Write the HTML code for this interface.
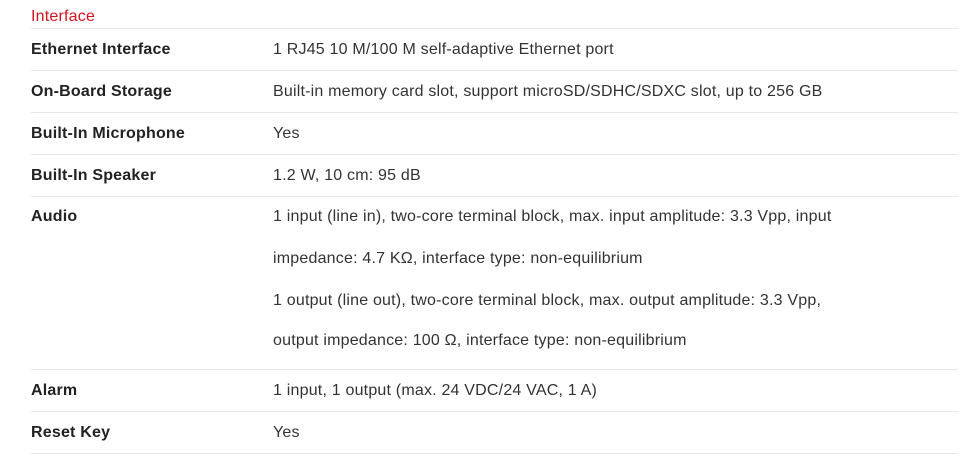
<!DOCTYPE html>
<html><head><style>
body{margin:0;width:967px;height:462px;background:#fff;position:relative;font-family:"Liberation Sans",sans-serif;font-size:16px;letter-spacing:0.2px;color:#222;overflow:hidden}
.t{position:absolute;white-space:nowrap;line-height:20px}
.b{font-weight:bold;left:31px;color:#222}
.v{left:273px;color:#333}
.l{position:absolute;left:31px;width:927px;height:1px;background:#e8e8e8}
</style></head><body>
<div class="t" style="left:31px;top:7px;color:#d7141e;font-size:16px">Interface</div>
<div class="l" style="top:28px"></div>
<div class="t b" style="top:40px">Ethernet Interface</div>
<div class="t v" style="top:40px">1 RJ45 10 M/100 M self-adaptive Ethernet port</div>
<div class="l" style="top:70px"></div>
<div class="t b" style="top:82px">On-Board Storage</div>
<div class="t v" style="top:82px">Built-in memory card slot, support microSD/SDHC/SDXC slot, up to 256 GB</div>
<div class="l" style="top:112px"></div>
<div class="t b" style="top:124px">Built-In Microphone</div>
<div class="t v" style="top:124px">Yes</div>
<div class="l" style="top:154px"></div>
<div class="t b" style="top:166px">Built-In Speaker</div>
<div class="t v" style="top:166px">1.2 W, 10 cm: 95 dB</div>
<div class="l" style="top:196px"></div>
<div class="t b" style="top:207px">Audio</div>
<div class="t v" style="top:207px">1 input (line in), two-core terminal block, max. input amplitude: 3.3 Vpp, input</div>
<div class="t v" style="top:249px">impedance: 4.7 KΩ, interface type: non-equilibrium</div>
<div class="t v" style="top:291px">1 output (line out), two-core terminal block, max. output amplitude: 3.3 Vpp,</div>
<div class="t v" style="top:331px">output impedance: 100 Ω, interface type: non-equilibrium</div>
<div class="l" style="top:369px"></div>
<div class="t b" style="top:381px">Alarm</div>
<div class="t v" style="top:381px">1 input, 1 output (max. 24 VDC/24 VAC, 1 A)</div>
<div class="l" style="top:411px"></div>
<div class="t b" style="top:423px">Reset Key</div>
<div class="t v" style="top:423px">Yes</div>
<div class="l" style="top:453px"></div>
</body></html>
